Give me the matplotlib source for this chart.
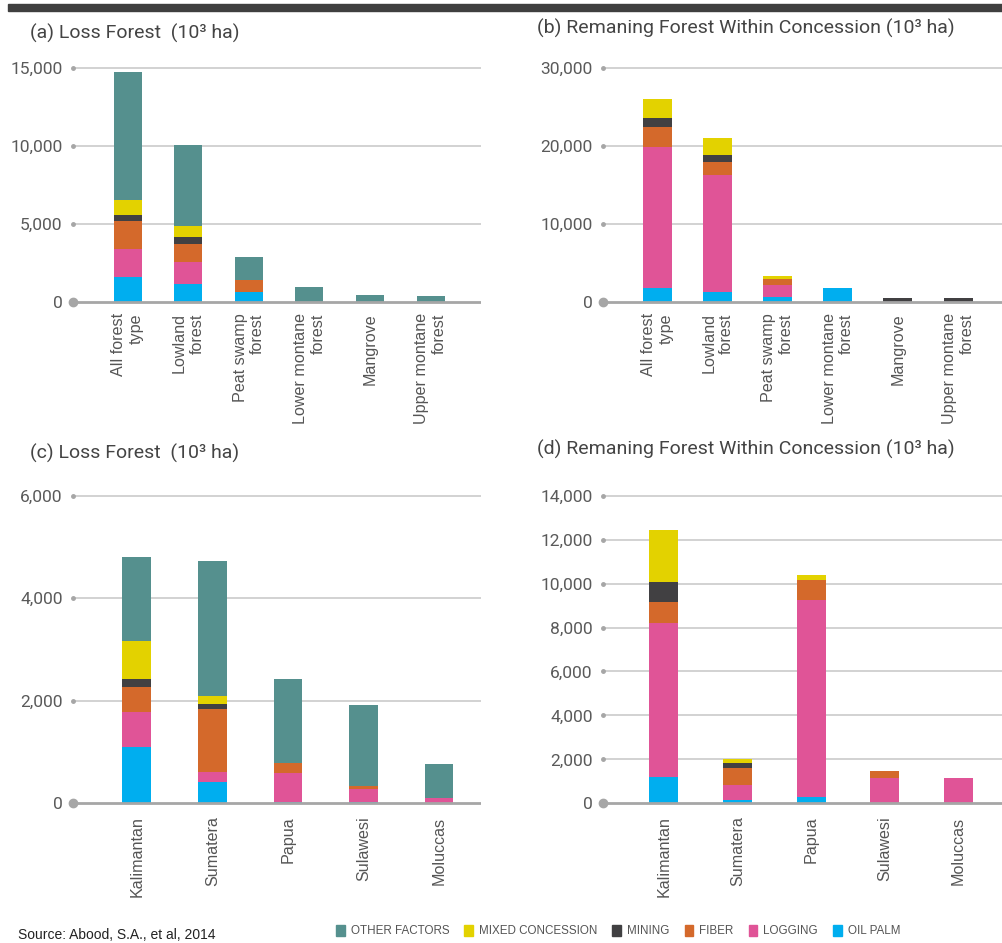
import numpy as np
from matplotlib import pyplot as plt
from matplotlib.patches import Patch, Rectangle

W, H = 1002, 943

# categories
forest_types = ['All forest\ntype', 'Lowland\nforest', 'Peat swamp\nforest',
                'Lower montane\nforest', 'Mangrove', 'Upper montane\nforest']
islands = ['Kalimantan', 'Sumatera', 'Papua', 'Sulawesi', 'Moluccas']

# stack order bottom -> top
layers = ['OIL PALM', 'LOGGING', 'FIBER', 'MINING', 'MIXED CONCESSION', 'OTHER FACTORS']
colors = ['#00aeef', '#e05497', '#d4692b', '#414042', '#e3d200', '#55908e']

# (a) loss forest by forest type
loss_type_oil = [1600, 1140, 640, 0, 0, 0]
loss_type_log = [1760, 1410, 0, 0, 0, 0]
loss_type_fib = [1830, 1160, 750, 0, 0, 0]
loss_type_min = [370, 430, 0, 0, 0, 0]
loss_type_mix = [950, 725, 0, 0, 0, 0]
loss_type_oth = [8270, 5185, 1500, 925, 450, 370]

# (b) remaining forest within concession by forest type
rem_type_oil = [1760, 1290, 640, 1720, 0, 0]
rem_type_log = [18090, 15000, 1510, 0, 0, 0]
rem_type_fib = [2610, 1630, 770, 0, 0, 0]
rem_type_min = [1190, 940, 0, 0, 450, 450]
rem_type_mix = [2450, 2220, 380, 0, 0, 0]
rem_type_oth = [0, 0, 0, 0, 0, 0]

# (c) loss forest by island
loss_isl_oil = [1100, 420, 30, 30, 10]
loss_isl_log = [690, 200, 555, 243, 87]
loss_isl_fib = [480, 1210, 207, 64, 0]
loss_isl_min = [160, 100, 0, 0, 0]
loss_isl_mix = [740, 170, 0, 0, 0]
loss_isl_oth = [1630, 2620, 1640, 1574, 675]

# (d) remaining forest within concession by island
rem_isl_oil = [1210, 140, 300, 0, 0]
rem_isl_log = [7010, 700, 8940, 1165, 1165]
rem_isl_fib = [930, 770, 920, 290, 0]
rem_isl_min = [940, 210, 0, 0, 0]
rem_isl_mix = [2350, 190, 230, 0, 0]
rem_isl_oth = [0, 0, 0, 0, 0]

NUM_FONT = ['Roboto', 'DejaVu Sans']
LAB_FONT = ['Liberation Sans', 'DejaVu Sans']


def make_axes(fig, x0, x1, y_zero, y_top, ymax, pad=0.02):
    span = y_zero - y_top
    bot = y_zero + pad * span
    top = y_top - pad * span
    ax = fig.add_axes([x0 / W, 1 - bot / H, (x1 - x0) / W, (bot - top) / H])
    ax.set_ylim(-pad * ymax, ymax * (1 + pad))
    return ax


def draw_panel(ax, cats, stacks, ymax, step, xlim, width):
    x = np.arange(len(cats))
    bottom = np.zeros(len(cats))
    for vals, col in zip(stacks, colors):
        vals = np.array(vals, dtype=float)
        ax.bar(x, vals, width, bottom=bottom, color=col, zorder=3)
        bottom += vals
    ax.set_xlim(*xlim)
    ticks = np.arange(0, ymax + 1, step)
    for t in ticks[1:]:
        ax.axhline(t, color='#d2d2d2', lw=1.4, zorder=1)
    ax.axhline(0, color='#a6a6a6', lw=2, zorder=4)
    ax.plot([xlim[0]] * (len(ticks) - 1), ticks[1:], 'o', ms=2.5,
            color='#a6a6a6', clip_on=False, zorder=5)
    ax.plot([xlim[0]], [0], 'o', ms=6, color='#a6a6a6', clip_on=False, zorder=5)
    ax.set_yticks(ticks)
    ax.set_yticklabels([f'{int(t):,}' for t in ticks], family=NUM_FONT,
                       fontsize=12.5, color='#5a5a5a')
    ax.set_xticks(x)
    ax.set_xticklabels(cats, rotation=90, family=LAB_FONT, fontsize=11.6,
                       color='#555555', multialignment='right')
    ax.tick_params(axis='y', length=0, pad=7.5)
    ax.tick_params(axis='x', length=0, pad=5)
    for s in ax.spines.values():
        s.set_visible(False)
    ax.patch.set_alpha(0)


fig = plt.figure(figsize=(W / 100, H / 100), dpi=100)

fig.patches.append(Rectangle((8 / W, 1 - 11 / H), 1, 7 / H, transform=fig.transFigure,
                             color='#3f3f3f', zorder=0))

ax_a = make_axes(fig, 73, 481, 301.7, 68.3, 15000)
draw_panel(ax_a, forest_types,
           [loss_type_oil, loss_type_log, loss_type_fib, loss_type_min, loss_type_mix, loss_type_oth],
           15000, 5000, (-0.9, 5.83), 0.46)

ax_b = make_axes(fig, 603, 1002, 301.7, 68.3, 30000)
draw_panel(ax_b, forest_types,
           [rem_type_oil, rem_type_log, rem_type_fib, rem_type_min, rem_type_mix, rem_type_oth],
           30000, 10000, (-0.9, 5.73), 0.48)

ax_c = make_axes(fig, 73, 481, 803.3, 495.7, 6000)
draw_panel(ax_c, islands,
           [loss_isl_oil, loss_isl_log, loss_isl_fib, loss_isl_min, loss_isl_mix, loss_isl_oth],
           6000, 2000, (-0.843, 4.555), 0.38)

ax_d = make_axes(fig, 603, 1002, 803.3, 495.7, 14000)
draw_panel(ax_d, islands,
           [rem_isl_oil, rem_isl_log, rem_isl_fib, rem_isl_min, rem_isl_mix, rem_isl_oth],
           14000, 2000, (-0.825, 4.59), 0.39)

title_kw = dict(family=NUM_FONT, fontsize=14, color='#444444', va='center', ha='left')
fig.text(30 / W, 1 - 33 / H, '(a) Loss Forest  (10³ ha)', **title_kw)
fig.text(537 / W, 1 - 28 / H, '(b) Remaning Forest Within Concession (10³ ha)', **title_kw)
fig.text(30 / W, 1 - 453 / H, '(c) Loss Forest  (10³ ha)', **title_kw)
fig.text(537 / W, 1 - 449 / H, '(d) Remaning Forest Within Concession (10³ ha)', **title_kw)

fig.text(18 / W, 1 - 935 / H, 'Source: Abood, S.A., et al, 2014', family=LAB_FONT,
         fontsize=10, color='#222222', va='center', ha='left')

handles = [Patch(color=c, label=l) for l, c in zip(layers, colors)][::-1]
fig.legend(handles=handles, loc='center', bbox_to_anchor=(618 / W, 1 - 931 / H),
           ncol=6, frameon=False, handlelength=0.75, handleheight=1.1,
           handletextpad=0.5, columnspacing=1.3,
           prop=dict(family=LAB_FONT, size=8.4), labelcolor='#555555')

fig.savefig('out.png', dpi=100)
